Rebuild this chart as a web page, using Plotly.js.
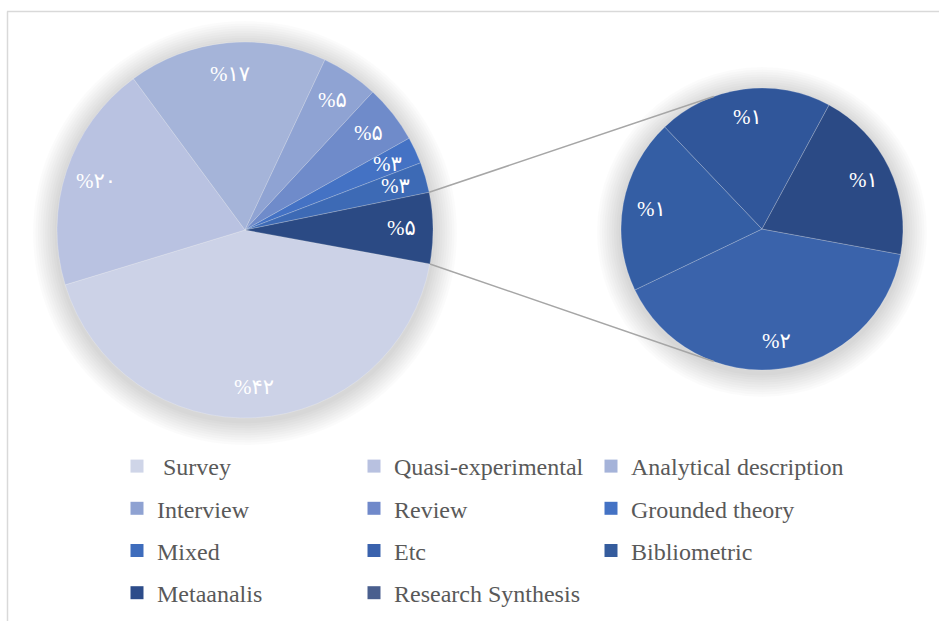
<!DOCTYPE html>
<html><head><meta charset="utf-8">
<script src="https://cdn.plot.ly/plotly-3.0.1.min.js"></script>
<style>html,body{margin:0;padding:0;background:#fff}#chart{width:939px;height:621px}</style>
</head><body><div id="chart"></div>
<script>
// ---- data ----
const mainLabels = ['Survey','Quasi-experimental','Analytical description','Interview','Review','Grounded theory','Mixed','Other'];
const mainValues = [42.4, 19.6, 17.1, 4.9, 5.0, 2.3, 2.6, 6.1];
const mainText   = ['%۴۲','%۲۰','%۱۷','%۵','%۵','%۳','%۳','%۵'];
const mainColors = ['#ccd2e7','#b9c2e1','#a5b4d9','#8fa3d3','#6f8bca','#4472c4','#3d6ab5','#2b4a84'];

const subLabels = ['Etc','Bibliometric','Metaanalis','Research Synthesis'];
const subValues = [2, 1, 1, 1];
const subText   = ['%۲','%۱','%۱','%۱'];
const subColors = ['#3a63ab','#345ea4','#30569a','#2b4a85'];

const legendLabels = [' Survey','Quasi-experimental','Analytical description','Interview','Review','Grounded theory','Mixed','Etc','Bibliometric','Metaanalis','Research Synthesis'];
const legendColors = ['#cfd5e8','#b8c1e0','#a5b3d9','#8fa2d2','#7089ca','#4472c4','#3e6cbc','#3a62ad','#355c9d','#2d4c8a','#4a5f8e'];

// ---- geometry ----
const W = 939, H = 621;
const ROT = 100.4;
const L = {cx: 245, cy: 230, r: 188, lab: 0.835};
const R = {cx: 762, cy: 229, r: 141, lab: 0.80};
const px2x = p => p / W, px2y = p => 1 - p / H;
function dom(c){ return {x:[px2x(c.cx-c.r), px2x(c.cx+c.r)], y:[px2y(c.cy+c.r), px2y(c.cy-c.r)]}; }
function pt(c, deg, f){ const a = deg*Math.PI/180, rr = c.r*(f||1); return [c.cx + rr*Math.sin(a), c.cy - rr*Math.cos(a)]; }

const traces = [
  {type:'pie', labels:mainLabels, values:mainValues, textinfo:'none',
   marker:{colors:mainColors, line:{color:'rgba(255,255,255,0.35)', width:0.6}},
   sort:false, direction:'clockwise', rotation:ROT, domain:dom(L), showlegend:false, hoverinfo:'skip'},
  {type:'pie', labels:subLabels, values:subValues, textinfo:'none',
   marker:{colors:subColors, line:{color:'rgba(255,255,255,0.35)', width:0.6}},
   sort:false, direction:'clockwise', rotation:ROT, domain:dom(R), showlegend:false, hoverinfo:'skip'}
];

// legend entries: three columns, each its own vertical legend
const legendNames = ['legend','legend2','legend3'];
legendLabels.forEach((lab,i)=>{
  traces.push({type:'scatter', mode:'markers', x:[null], y:[null], name:lab,
    legend: legendNames[i % 3], legendgroup:'g'+i,
    marker:{symbol:'square', size:13, color:legendColors[i]}, hoverinfo:'skip'});
});

// slice labels placed at the mid-angle of each slice
const annotations = [];
const textFont = {family:'Liberation Serif, DejaVu Sans, serif', size:21, color:'#ffffff'};
function addLabels(c, values, texts){
  const tot = values.reduce((a,b)=>a+b,0);
  let acc = 0;
  values.forEach((v,i)=>{
    const mid = ROT + (acc + v/2)/tot*360;
    acc += v;
    const p = pt(c, mid, c.lab);
    annotations.push({xref:'paper', yref:'paper', x:px2x(p[0]), y:px2y(p[1]), text:texts[i],
      showarrow:false, xanchor:'center', yanchor:'middle', font:textFont});
  });
}
addLabels(L, mainValues, mainText);
addLabels(R, subValues, subText);

// shapes: frame, shadows, connectors
const shapes = [];
shapes.push({type:'line', xref:'paper', yref:'paper', x0:px2x(7), x1:1, y0:px2y(11.5), y1:px2y(11.5), line:{color:'#d9d9d9', width:1.5}});
shapes.push({type:'line', xref:'paper', yref:'paper', x0:px2x(7.5), x1:px2x(7.5), y0:px2y(11.5), y1:0, line:{color:'#d9d9d9', width:1.5}});
[L,R].forEach(c=>{
  for(let k=10;k>=1;k--){
    const rr = c.r + 2.4*k, cy = c.cy + 3;
    shapes.push({type:'circle', xref:'paper', yref:'paper', layer:'below',
      x0:px2x(c.cx-rr), x1:px2x(c.cx+rr), y0:px2y(cy+rr), y1:px2y(cy-rr),
      fillcolor:'rgba(0,0,0,0.014)', line:{width:0}});
  }
});
const total = mainValues.reduce((a,b)=>a+b,0);
const otherFrac = mainValues[mainValues.length-1]/total;
const a1 = pt(L, ROT - otherFrac*360), a2 = pt(L, ROT);
const b1 = pt(R, -20), b2 = pt(R, 200);
[[a1,b1],[a2,b2]].forEach(([p,q])=>{
  shapes.push({type:'line', xref:'paper', yref:'paper', x0:px2x(p[0]), y0:px2y(p[1]), x1:px2x(q[0]), y1:px2y(q[1]),
    line:{color:'#a6a6a6', width:1.5}});
});

const colX = [117, 354, 591];
const legendBase = {orientation:'v', yanchor:'top', xanchor:'left', y:px2y(444),
  traceorder:'grouped', tracegroupgap:8, bgcolor:'rgba(0,0,0,0)',
  font:{family:'Liberation Serif, serif', size:24, color:'#595959'}};
const layout = {
  width:W, height:H, margin:{l:0,r:0,t:0,b:0}, paper_bgcolor:'#ffffff', plot_bgcolor:'#ffffff',
  hovermode:false, showlegend:true,
  xaxis:{visible:false, domain:[0,0.01]}, yaxis:{visible:false, domain:[0,0.01]},
  shapes:shapes, annotations:annotations
};
legendNames.forEach((n,i)=>{ layout[n] = Object.assign({}, legendBase, {x:px2x(colX[i])}); });

Plotly.newPlot('chart', traces, layout, {staticPlot:true, displayModeBar:false});
</script></body></html>
